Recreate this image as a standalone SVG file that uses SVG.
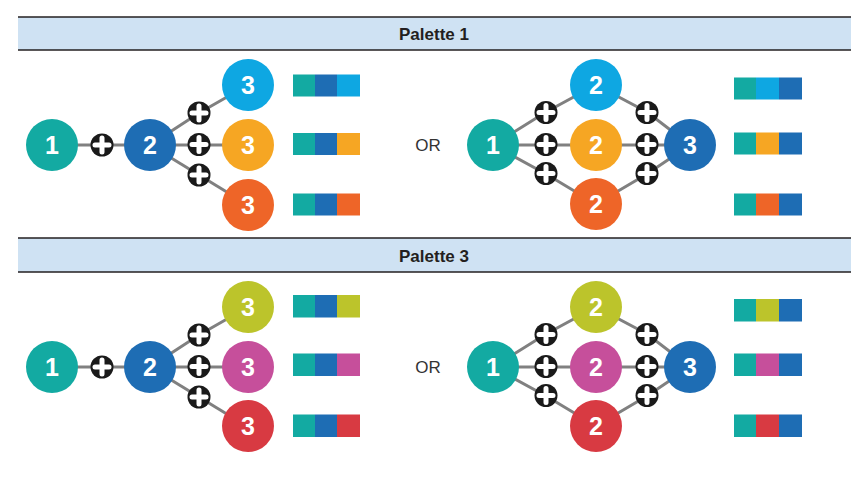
<svg xmlns="http://www.w3.org/2000/svg" xmlns:xlink="http://www.w3.org/1999/xlink" width="867" height="487" viewBox="0 0 867 487">
  <style>
    .hdr { fill: #CFE2F3; }
    .hline { stroke: #231F20; stroke-width: 1.5; }
    .htxt { font-family: "Liberation Sans", Arial, sans-serif; font-weight: bold; font-size: 17px; fill: #231F20; text-anchor: middle; }
    .num { font-family: "Liberation Sans", Arial, sans-serif; font-weight: bold; font-size: 25px; fill: #FFFFFF; text-anchor: middle; }
    .or { font-family: "Liberation Sans", Arial, sans-serif; font-size: 17px; fill: #333333; text-anchor: middle; }
    .edge { stroke: #808080; stroke-width: 3; fill: none; }
    .teal { fill: #13AAA2; }
    .dblue { fill: #1E6DB4; }
    .lblue { fill: #0EA7E2; }
    .orange { fill: #F6A623; }
    .ored { fill: #EE6528; }
    .lime { fill: #BCC42B; }
    .mag { fill: #C64F9B; }
    .red { fill: #D83A42; }
  </style>
  <defs>
    <g id="plus">
      <circle r="11.5" fill="#1A1A1A"/>
      <path d="M0,-7 V7 M-7,0 H7" stroke="#FFFFFF" stroke-width="5" stroke-linecap="round"/>
    </g>
  </defs>
  <rect width="867" height="487" fill="#FFFFFF"/>

  <!-- Header 1 -->
  <g id="header1">
    <rect class="hdr" x="18" y="17" width="833" height="33"/>
    <line class="hline" x1="18" y1="17" x2="851" y2="17"/>
    <line class="hline" x1="18" y1="50" x2="851" y2="50"/>
    <text class="htxt" x="434" y="40">Palette 1</text>
  </g>
  <!-- Header 2 -->
  <g id="header2">
    <rect class="hdr" x="18" y="238" width="833" height="34"/>
    <line class="hline" x1="18" y1="238" x2="851" y2="238"/>
    <line class="hline" x1="18" y1="272" x2="851" y2="272"/>
    <text class="htxt" x="434" y="262">Palette 3</text>
  </g>

  <!-- Palette 1 -->
  <g id="connectors-p1">
    <path class="edge" d="M52,145 H150"/>
    <path class="edge" d="M150,145 L199,113 L248,85"/>
    <path class="edge" d="M150,145 H248"/>
    <path class="edge" d="M150,145 L199,175 L248,205"/>
    <path class="edge" d="M493,145 L546,112 L596,85 L647,112 L690,145"/>
    <path class="edge" d="M493,145 H690"/>
    <path class="edge" d="M493,145 L546,174 L596,204 L647,174 L690,145"/>
    <use xlink:href="#plus" x="102" y="145"/>
    <use xlink:href="#plus" x="199" y="113"/>
    <use xlink:href="#plus" x="199" y="144.5"/>
    <use xlink:href="#plus" x="199" y="175"/>
    <use xlink:href="#plus" x="546" y="112.5"/>
    <use xlink:href="#plus" x="546" y="144.5"/>
    <use xlink:href="#plus" x="546" y="173.5"/>
    <use xlink:href="#plus" x="647" y="112.5"/>
    <use xlink:href="#plus" x="647" y="144.5"/>
    <use xlink:href="#plus" x="647" y="173.5"/>
  </g>
  <g id="p1-left-n1"><circle class="teal" cx="52" cy="145" r="26"/><text class="num" x="52" y="154">1</text></g>
  <g id="p1-left-n2"><circle class="dblue" cx="150" cy="145" r="26"/><text class="num" x="150" y="154">2</text></g>
  <g id="p1-left-n3a"><circle class="lblue" cx="248" cy="85" r="26"/><text class="num" x="248" y="94">3</text></g>
  <g id="p1-left-n3b"><circle class="orange" cx="248" cy="145" r="26"/><text class="num" x="248" y="154">3</text></g>
  <g id="p1-left-n3c"><circle class="ored" cx="248" cy="205" r="26"/><text class="num" x="248" y="214">3</text></g>
  <g id="p1-left-swatches">
    <rect class="teal" x="293" y="74.5" width="22" height="22"/><rect class="dblue" x="315" y="74.5" width="22" height="22"/><rect class="lblue" x="337" y="74.5" width="23" height="22"/>
    <rect class="teal" x="293" y="133" width="22" height="22"/><rect class="dblue" x="315" y="133" width="22" height="22"/><rect class="orange" x="337" y="133" width="23" height="22"/>
    <rect class="teal" x="293" y="193.5" width="22" height="22"/><rect class="dblue" x="315" y="193.5" width="22" height="22"/><rect class="ored" x="337" y="193.5" width="23" height="22"/>
  </g>
  <text class="or" x="428" y="151">OR</text>
  <g id="p1-right-n1"><circle class="teal" cx="493" cy="145" r="26"/><text class="num" x="493" y="154">1</text></g>
  <g id="p1-right-n2a"><circle class="lblue" cx="596" cy="85" r="26"/><text class="num" x="596" y="94">2</text></g>
  <g id="p1-right-n2b"><circle class="orange" cx="596" cy="145" r="26"/><text class="num" x="596" y="154">2</text></g>
  <g id="p1-right-n2c"><circle class="ored" cx="596" cy="204" r="26"/><text class="num" x="596" y="213">2</text></g>
  <g id="p1-right-n3"><circle class="dblue" cx="690" cy="145" r="26"/><text class="num" x="690" y="154">3</text></g>
  <g id="p1-right-swatches">
    <rect class="teal" x="734" y="77.5" width="22" height="22"/><rect class="lblue" x="756" y="77.5" width="23" height="22"/><rect class="dblue" x="779" y="77.5" width="23" height="22"/>
    <rect class="teal" x="734" y="132.5" width="22" height="22"/><rect class="orange" x="756" y="132.5" width="23" height="22"/><rect class="dblue" x="779" y="132.5" width="23" height="22"/>
    <rect class="teal" x="734" y="193.5" width="22" height="22"/><rect class="ored" x="756" y="193.5" width="23" height="22"/><rect class="dblue" x="779" y="193.5" width="23" height="22"/>
  </g>

  <!-- Palette 3 -->
  <g transform="translate(0,222)">
    <g id="connectors-p3">
      <path class="edge" d="M52,145 H150"/>
      <path class="edge" d="M150,145 L199,113 L248,85"/>
      <path class="edge" d="M150,145 H248"/>
      <path class="edge" d="M150,145 L199,175 L248,205"/>
      <path class="edge" d="M493,145 L546,112 L596,85 L647,112 L690,145"/>
      <path class="edge" d="M493,145 H690"/>
      <path class="edge" d="M493,145 L546,174 L596,204 L647,174 L690,145"/>
      <use xlink:href="#plus" x="102" y="145"/>
      <use xlink:href="#plus" x="199" y="113"/>
      <use xlink:href="#plus" x="199" y="144.5"/>
      <use xlink:href="#plus" x="199" y="175"/>
      <use xlink:href="#plus" x="546" y="112.5"/>
      <use xlink:href="#plus" x="546" y="144.5"/>
      <use xlink:href="#plus" x="546" y="173.5"/>
      <use xlink:href="#plus" x="647" y="112.5"/>
      <use xlink:href="#plus" x="647" y="144.5"/>
      <use xlink:href="#plus" x="647" y="173.5"/>
    </g>
    <g id="p3-left-n1"><circle class="teal" cx="52" cy="145" r="26"/><text class="num" x="52" y="154">1</text></g>
    <g id="p3-left-n2"><circle class="dblue" cx="150" cy="145" r="26"/><text class="num" x="150" y="154">2</text></g>
    <g id="p3-left-n3a"><circle class="lime" cx="248" cy="85" r="26"/><text class="num" x="248" y="94">3</text></g>
    <g id="p3-left-n3b"><circle class="mag" cx="248" cy="145" r="26"/><text class="num" x="248" y="154">3</text></g>
    <g id="p3-left-n3c"><circle class="red" cx="248" cy="204" r="26"/><text class="num" x="248" y="213">3</text></g>
    <g id="p3-left-swatches">
      <rect class="teal" x="293" y="73" width="22" height="22.5"/><rect class="dblue" x="315" y="73" width="22" height="22.5"/><rect class="lime" x="337" y="73" width="23" height="22.5"/>
      <rect class="teal" x="293" y="131.5" width="22" height="22.5"/><rect class="dblue" x="315" y="131.5" width="22" height="22.5"/><rect class="mag" x="337" y="131.5" width="23" height="22.5"/>
      <rect class="teal" x="293" y="192.5" width="22" height="22.5"/><rect class="dblue" x="315" y="192.5" width="22" height="22.5"/><rect class="red" x="337" y="192.5" width="23" height="22.5"/>
    </g>
    <text class="or" x="428" y="151">OR</text>
    <g id="p3-right-n1"><circle class="teal" cx="493" cy="145" r="26"/><text class="num" x="493" y="154">1</text></g>
    <g id="p3-right-n2a"><circle class="lime" cx="596" cy="85" r="26"/><text class="num" x="596" y="94">2</text></g>
    <g id="p3-right-n2b"><circle class="mag" cx="596" cy="145" r="26"/><text class="num" x="596" y="154">2</text></g>
    <g id="p3-right-n2c"><circle class="red" cx="596" cy="204" r="26"/><text class="num" x="596" y="213">2</text></g>
    <g id="p3-right-n3"><circle class="dblue" cx="690" cy="145" r="26"/><text class="num" x="690" y="154">3</text></g>
    <g id="p3-right-swatches">
      <rect class="teal" x="734" y="77" width="22" height="22.5"/><rect class="lime" x="756" y="77" width="23" height="22.5"/><rect class="dblue" x="779" y="77" width="23" height="22.5"/>
      <rect class="teal" x="734" y="131.5" width="22" height="22.5"/><rect class="mag" x="756" y="131.5" width="23" height="22.5"/><rect class="dblue" x="779" y="131.5" width="23" height="22.5"/>
      <rect class="teal" x="734" y="192.5" width="22" height="22.5"/><rect class="red" x="756" y="192.5" width="23" height="22.5"/><rect class="dblue" x="779" y="192.5" width="23" height="22.5"/>
    </g>
  </g>
</svg>
